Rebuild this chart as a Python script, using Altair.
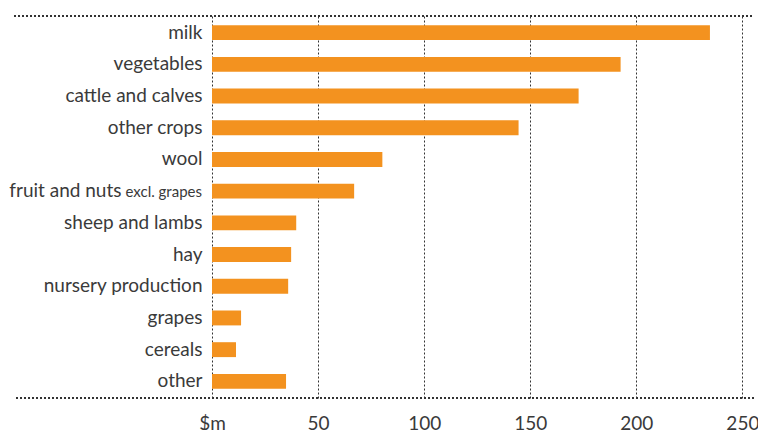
import altair as alt
import pandas as pd

categories = ["milk", "vegetables", "cattle and calves", "other crops", "wool",
              "fruit and nuts", "sheep and lambs", "hay", "nursery production",
              "grapes", "cereals", "other"]
values = [234.7, 192.6, 172.8, 144.5, 80.3, 67.0, 39.7, 37.3, 35.9, 13.7, 11.3, 34.9]
notes = ["", "", "", "", "", "excl. grapes", "", "", "", "", "", ""]
x_ticks = [0, 50, 100, 150, 200, 250]

df = pd.DataFrame({"category": categories, "value": values, "note": notes})

FONT = "Lato"
TXT = "#3a3a3a"
W, H = 541, 382

bars = alt.Chart(df).mark_bar(color="#F3921F").encode(
    x=alt.X("value:Q",
            scale=alt.Scale(domain=[0, 255], nice=False, zero=True),
            axis=alt.Axis(values=x_ticks, title=None, domain=False, ticks=False,
                          labelExpr="datum.value == 0 ? '$m' : datum.label",
                          labelFont=FONT, labelFontSize=19, labelColor=TXT,
                          labelPadding=16, labelBaseline="top", labelFlush=False,
                          grid=True, gridColor="#333333", gridDash=[2, 2],
                          gridWidth=1, gridOpacity=1)),
    y=alt.Y("category:N", sort=categories,
            scale=alt.Scale(paddingInner=0.53, paddingOuter=0.29), title=None,
            axis=alt.Axis(domain=False, ticks=False, grid=False,
                          labelFont=FONT, labelFontSize=19, labelColor=TXT,
                          labelPadding={"condition": {"test": "datum.value == 'fruit and nuts'", "value": 91}, "value": 10},
                          labelLimit=300)),
)

note_text = alt.Chart(df).transform_filter("datum.note != ''").mark_text(
    align="right", baseline="middle", font=FONT, fontSize=15, color=TXT, dy=1
).encode(
    x=alt.value(-10),
    y=alt.Y("category:N", sort=categories),
    text="note:N",
)

top_line = alt.Chart(df).mark_rule(color="#333333", strokeDash=[2, 2], strokeWidth=1).encode(
    x=alt.value(-198), x2=alt.value(W), y=alt.value(0))
bottom_line = alt.Chart(df).mark_rule(color="#333333", strokeDash=[2, 2], strokeWidth=1).encode(
    x=alt.value(-196), x2=alt.value(W + 2), y=alt.value(H))

chart = alt.layer(bars, note_text, top_line, bottom_line).properties(
    width=W, height=H,
    autosize=alt.AutoSizeParams(type="none"),
    padding={"left": 204, "top": 8, "right": 5, "bottom": 32},
).configure_view(stroke=None)

chart.save("out.html", embed_options={"renderer": "svg", "actions": False})
